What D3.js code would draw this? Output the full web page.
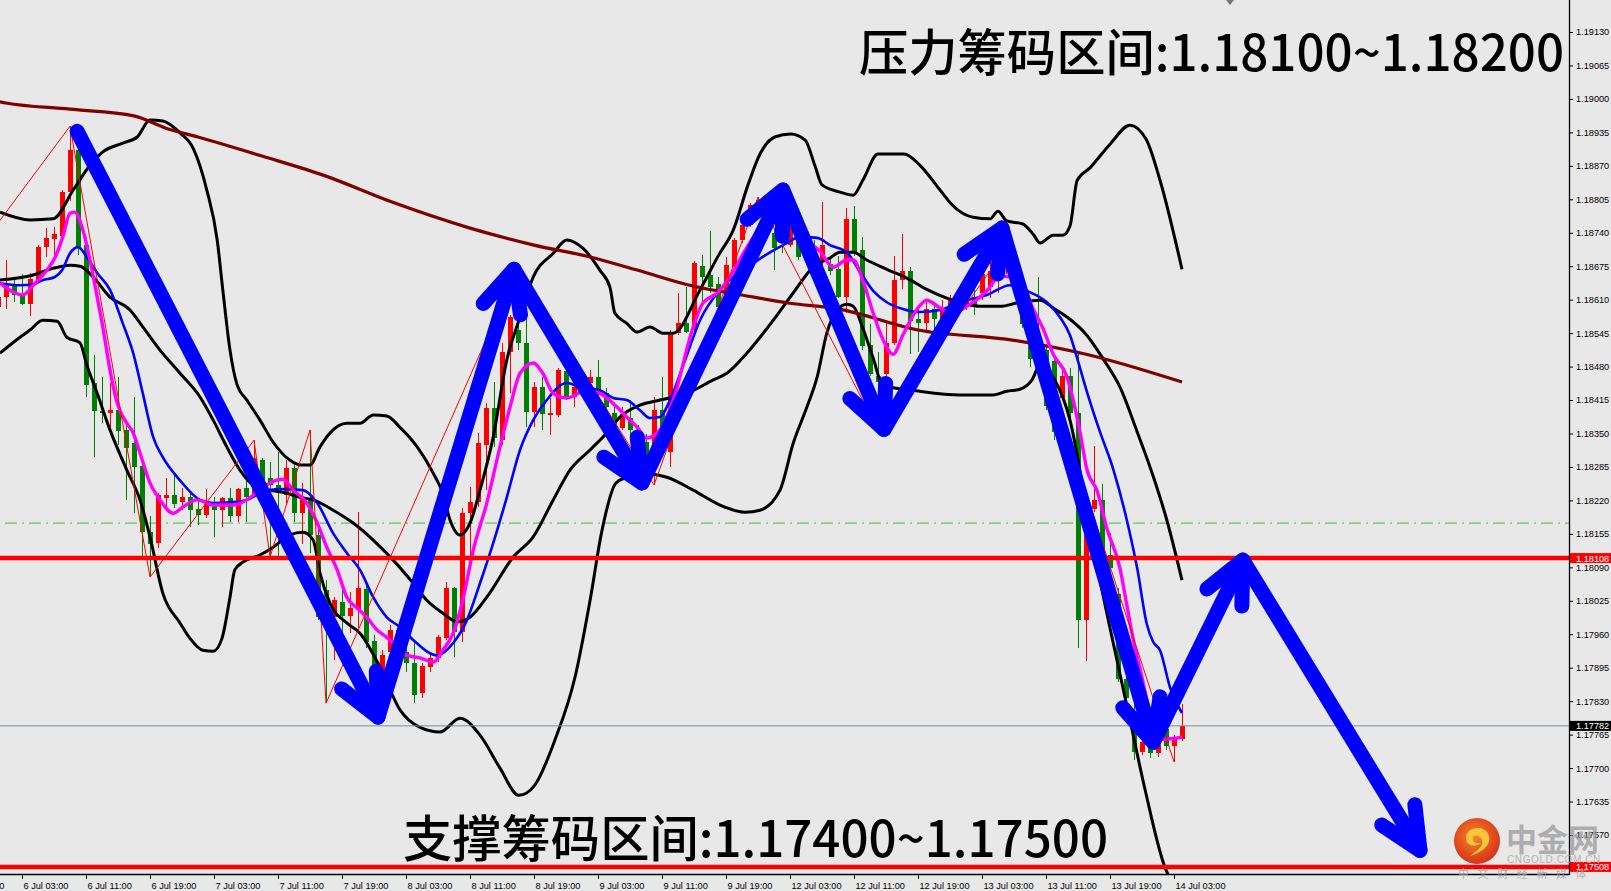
<!DOCTYPE html>
<html><head><meta charset="utf-8">
<script src="https://cdn.jsdelivr.net/npm/d3@7"></script>
<style>
html,body{margin:0;padding:0;background:#e8e8e8;overflow:hidden;}
svg{display:block;}
</style></head><body>
<svg id="c" width="1611" height="891"></svg>
<script>
// ---------------- DATA ----------------
const firstBar = -3; // bar index of first candle (6 Jul 03:00 = bar 0, hourly bars)
// [open, high, low, close]
const ohlc = [
[1.18596,1.18640,1.18590,1.18615],
[1.18615,1.18687,1.18592,1.18636],[1.18640,1.18652,1.18605,1.18619],[1.18619,1.18659,1.18599,1.18601],[1.18601,1.18661,1.18578,1.18650],
[1.18648,1.18716,1.18642,1.18712],[1.18712,1.18749,1.18692,1.18729],[1.18727,1.18751,1.18692,1.18737],[1.18733,1.18824,1.18731,1.18820],
[1.18819,1.18947,1.18801,1.18900],[1.18900,1.18914,1.18697,1.18712],[1.18716,1.18731,1.18421,1.18444],[1.18448,1.18502,1.18304,1.18394],
[1.18394,1.18459,1.18370,1.18390],[1.18390,1.18448,1.18362,1.18396],[1.18396,1.18459,1.18327,1.18354],[1.18356,1.18370,1.18220,1.18322],
[1.18331,1.18421,1.18195,1.18285],[1.18287,1.18302,1.18110,1.18158],[1.18159,1.18190,1.18071,1.18136],[1.18138,1.18234,1.18127,1.18230],
[1.18224,1.18263,1.18205,1.18230],[1.18230,1.18275,1.18205,1.18214],[1.18216,1.18244,1.18201,1.18226],[1.18226,1.18236,1.18168,1.18201],
[1.18203,1.18220,1.18172,1.18191],[1.18191,1.18242,1.18185,1.18214],[1.18214,1.18226,1.18149,1.18201],[1.18201,1.18226,1.18168,1.18224],
[1.18224,1.18244,1.18178,1.18189],[1.18189,1.18244,1.18178,1.18242],[1.18244,1.18263,1.18178,1.18226],[1.18230,1.18337,1.18226,1.18302],
[1.18298,1.18302,1.18234,1.18240],[1.18263,1.18294,1.18110,1.18249],[1.18249,1.18314,1.18110,1.18234],[1.18230,1.18298,1.18214,1.18283],
[1.18283,1.18292,1.18178,1.18195],[1.18195,1.18254,1.18136,1.18226],[1.18220,1.18357,1.18118,1.18153],[1.18153,1.18176,1.17987,1.17993],
[1.18046,1.18066,1.17826,1.17993],[1.17993,1.18032,1.17910,1.18026],[1.18022,1.18048,1.17963,1.17995],[1.17995,1.18042,1.17963,1.18011],
[1.18007,1.18197,1.17972,1.18050],[1.18048,1.18059,1.17933,1.17945],[1.17947,1.17958,1.17877,1.17896],[1.17886,1.17929,1.17877,1.17919],
[1.17925,1.17978,1.17923,1.17968],[1.17968,1.17978,1.17910,1.17939],[1.17925,1.17949,1.17886,1.17904],[1.17904,1.17945,1.17826,1.17842],
[1.17846,1.17904,1.17836,1.17898],[1.17896,1.17923,1.17886,1.17914],[1.17914,1.17958,1.17906,1.17955],[1.17953,1.18061,1.17949,1.18050],
[1.18050,1.18052,1.17915,1.17964],[1.17964,1.18205,1.17945,1.18195],[1.18195,1.18246,1.18094,1.18216],[1.18216,1.18351,1.18207,1.18331],
[1.18327,1.18409,1.18240,1.18399],[1.18399,1.18450,1.18323,1.18341],[1.18337,1.18526,1.18327,1.18508],[1.18508,1.18580,1.18428,1.18576],
[1.18551,1.18673,1.18512,1.18526],[1.18526,1.18594,1.18362,1.18392],[1.18392,1.18450,1.18362,1.18440],[1.18440,1.18459,1.18357,1.18388],
[1.18386,1.18419,1.18347,1.18390],[1.18386,1.18477,1.18382,1.18473],[1.18471,1.18479,1.18415,1.18419],[1.18421,1.18454,1.18401,1.18440],
[1.18430,1.18469,1.18423,1.18454],[1.18448,1.18473,1.18421,1.18460],[1.18460,1.18493,1.18419,1.18428],[1.18428,1.18438,1.18392,1.18401],
[1.18390,1.18401,1.18357,1.18362],[1.18360,1.18401,1.18357,1.18388],[1.18380,1.18415,1.18337,1.18357],[1.18357,1.18366,1.18308,1.18327],
[1.18333,1.18349,1.18280,1.18298],[1.18323,1.18421,1.18250,1.18396],[1.18396,1.18459,1.18357,1.18362],[1.18314,1.18551,1.18285,1.18547],
[1.18545,1.18623,1.18541,1.18564],[1.18564,1.18634,1.18545,1.18547],[1.18551,1.18685,1.18547,1.18681],[1.18675,1.18697,1.18599,1.18654],
[1.18658,1.18743,1.18623,1.18634],[1.18640,1.18654,1.18594,1.18595],[1.18595,1.18693,1.18594,1.18677],[1.18673,1.18730,1.18671,1.18726],
[1.18726,1.18770,1.18720,1.18755],[1.18755,1.18798,1.18751,1.18794],[1.18790,1.18809,1.18784,1.18804],[1.18804,1.18806,1.18745,1.18755],
[1.18739,1.18749,1.18668,1.18710],[1.18739,1.18759,1.18700,1.18726],[1.18716,1.18751,1.18712,1.18749],[1.18741,1.18745,1.18687,1.18693],
[1.18693,1.18726,1.18681,1.18712],[1.18712,1.18726,1.18671,1.18683],[1.18683,1.18799,1.18677,1.18716],[1.18679,1.18695,1.18658,1.18665],
[1.18669,1.18695,1.18613,1.18615],[1.18615,1.18788,1.18584,1.18767],[1.18767,1.18792,1.18695,1.18702],[1.18706,1.18732,1.18512,1.18520],
[1.18522,1.18563,1.18461,1.18465],[1.18461,1.18508,1.18357,1.18450],[1.18465,1.18566,1.18454,1.18526],[1.18526,1.18695,1.18522,1.18648],
[1.18648,1.18737,1.18630,1.18665],[1.18665,1.18673,1.18504,1.18568],[1.18572,1.18594,1.18508,1.18565],[1.18565,1.18605,1.18547,1.18592],
[1.18592,1.18599,1.18551,1.18572],[1.18572,1.18609,1.18566,1.18594],[1.18590,1.18619,1.18580,1.18609],[1.18609,1.18625,1.18586,1.18599],
[1.18599,1.18628,1.18590,1.18619],[1.18615,1.18630,1.18580,1.18600],[1.18623,1.18671,1.18609,1.18660],[1.18634,1.18698,1.18613,1.18665],
[1.18663,1.18685,1.18623,1.18677],[1.18677,1.18710,1.18660,1.18690],[1.18660,1.18675,1.18620,1.18630],[1.18630,1.18645,1.18555,1.18562],
[1.18562,1.18600,1.18480,1.18495],[1.18540,1.18655,1.18470,1.18480],[1.18512,1.18522,1.18396,1.18403],[1.18491,1.18502,1.18337,1.18353],
[1.18419,1.18473,1.18415,1.18462],[1.18462,1.18477,1.18376,1.18390],[1.18390,1.18504,1.17933,1.17987],[1.17987,1.18166,1.17908,1.18160],
[1.18203,1.18326,1.18197,1.18221],[1.18221,1.18252,1.18120,1.18124],[1.18114,1.18157,1.18085,1.18088],[1.18038,1.18050,1.17867,1.17873],
[1.17873,1.17892,1.17822,1.17836],[1.17801,1.17832,1.17715,1.17731],[1.17731,1.17764,1.17725,1.17750],[1.17750,1.17765,1.17720,1.17730],
[1.17730,1.17760,1.17722,1.17745],[1.17776,1.17783,1.17735,1.17743],[1.17743,1.17764,1.17712,1.17756],[1.17756,1.17824,1.17752,1.17782]
];
// indicator lines: [bar index, price]
const maSlow = [[-3,1.18995],[-2,1.18992],[6,1.18980],[14,1.18967],[18,1.18943],[22,1.18926],[30,1.18889],[38,1.18850],[46,1.18801],[56,1.18749],[64,1.18716],[71,1.18693],[77,1.18667],[84,1.18636],[90,1.18619],[96,1.18603],[102,1.18592],[112,1.18551],[124,1.18531],[133,1.18504],[145,1.18450]];
const bbUpper = [[-2.75,1.18780],[1,1.18765],[3.9,1.18767],[6.4,1.18823],[8.5,1.18871],[10.1,1.18897],[12.6,1.18914],[14.4,1.18926],[16,1.18959],[17.6,1.18957],[19.75,1.18934],[21.4,1.18904],[23.1,1.18823],[24.4,1.18726],[25.1,1.18629],[26,1.18512],[26.9,1.18444],[28.1,1.18415],[29.75,1.18376],[31.4,1.18333],[33.5,1.18298],[34.75,1.18289],[36,1.18289],[37.25,1.18324],[38.5,1.18351],[40.6,1.18370],[42.25,1.18370],[43.9,1.18386],[45.6,1.18384],[47.25,1.18362],[49.4,1.18324],[51.4,1.18273],[52.6,1.18234],[53.5,1.18182],[54.75,1.18153],[56,1.18176],[57.25,1.18240],[58.9,1.18343],[60.6,1.18493],[62.25,1.18576],[63.9,1.18654],[66.4,1.18700],[68.1,1.18726],[70.1,1.18710],[72.25,1.18667],[73.5,1.18634],[74.1,1.18584],[75.6,1.18564],[76.9,1.18547],[78.5,1.18557],[80.1,1.18545],[81.4,1.18545],[84.75,1.18629],[87.1,1.18697],[88.9,1.18745],[90.75,1.18833],[92.25,1.18893],[94.1,1.18926],[96.1,1.18932],[97.9,1.18920],[99.1,1.18871],[100,1.18833],[102.25,1.18819],[103.9,1.18813],[105.1,1.18842],[107,1.18893],[110.25,1.18893],[112.25,1.18871],[114.75,1.18823],[116.4,1.18792],[118.9,1.18770],[121,1.18767],[122,1.18782],[123.1,1.18763],[125.1,1.18757],[126.4,1.18737],[127.25,1.18720],[128.9,1.18735],[130.1,1.18735],[131,1.18753],[131.9,1.18842],[133.5,1.18866],[136,1.18912],[138.5,1.18949],[140.5,1.18922],[142.25,1.18842],[145,1.18669]];
const bbMiddle = [[-2.75,1.18648],[1.4,1.18658],[3.9,1.18671],[6,1.18677],[7.25,1.18675],[8.9,1.18654],[11,1.18615],[13.5,1.18590],[15.1,1.18557],[17.25,1.18512],[19.75,1.18467],[22.25,1.18421],[23.9,1.18376],[25.6,1.18324],[27.25,1.18279],[28.9,1.18250],[31,1.18240],[33.1,1.18234],[34.75,1.18226],[36.4,1.18221],[38.9,1.18201],[41.4,1.18176],[43.9,1.18143],[46.4,1.18104],[48.9,1.18059],[50.6,1.18026],[52.6,1.18001],[54.4,1.17984],[56,1.17993],[58.1,1.18032],[61.4,1.18110],[63.9,1.18149],[66.4,1.18221],[68.5,1.18279],[71,1.18318],[73.1,1.18351],[74.75,1.18382],[77.25,1.18405],[79.75,1.18415],[83.1,1.18428],[86.4,1.18454],[88.1,1.18467],[90.6,1.18506],[93.9,1.18570],[96.4,1.18623],[98.9,1.18673],[101,1.18691],[102.25,1.18702],[103.9,1.18702],[105.6,1.18687],[108.1,1.18669],[110.6,1.18652],[113.1,1.18630],[115.6,1.18613],[117.25,1.18605],[119.75,1.18597],[122.25,1.18597],[124.75,1.18605],[127.25,1.18609],[128.9,1.18594],[131,1.18572],[133.1,1.18541],[135.1,1.18496],[137.25,1.18440],[139.4,1.18353],[141.4,1.18267],[143.1,1.18182],[145,1.18065]];
const bbLower = [[-2.75,1.18506],[-0.25,1.18537],[1,1.18551],[2.6,1.18570],[4.4,1.18568],[5.6,1.18537],[7.25,1.18526],[8.1,1.18483],[9.4,1.18428],[11,1.18357],[13.1,1.18279],[14.75,1.18221],[16,1.18149],[17.6,1.18040],[19.75,1.17982],[21,1.17952],[22.6,1.17929],[23.9,1.17927],[25,1.17952],[26,1.18032],[26.6,1.18085],[27.6,1.18100],[29.75,1.18114],[31.4,1.18129],[33.5,1.18153],[35.1,1.18158],[36.4,1.18143],[37.25,1.18079],[38.5,1.18020],[40.6,1.17982],[42.25,1.17962],[44.75,1.17896],[47.25,1.17813],[49.75,1.17779],[52.25,1.17770],[54.75,1.17797],[57.25,1.17764],[59.75,1.17700],[62.1,1.17647],[64.1,1.17667],[66.6,1.17754],[69.1,1.17875],[71.1,1.18034],[72.4,1.18154],[74.25,1.18254],[75.6,1.18265],[77.25,1.18273],[80.6,1.18265],[83.9,1.18240],[87.25,1.18211],[90.4,1.18197],[92.25,1.18201],[94.75,1.18240],[96.4,1.18331],[98.1,1.18401],[99.4,1.18460],[100.6,1.18545],[101.9,1.18590],[103.1,1.18601],[103.9,1.18597],[105.1,1.18555],[106.4,1.18496],[107.6,1.18444],[112.25,1.18432],[117.25,1.18425],[121.4,1.18425],[123.1,1.18432],[124.75,1.18436],[126.25,1.18454],[127.25,1.18483],[129.1,1.18454],[131,1.18376],[132.9,1.18221],[134.75,1.18065],[136.6,1.17929],[138.5,1.17793],[140.4,1.17657],[142.9,1.17506],[145,1.17461]];
const maMid = [[-2.75,1.18642],[-0.25,1.18638],[1.4,1.18640],[2.6,1.18648],[4.1,1.18654],[5,1.18667],[6,1.18700],[7,1.18712],[8.1,1.18693],[9.4,1.18662],[11,1.18629],[12.6,1.18564],[13.9,1.18506],[15.1,1.18428],[16.4,1.18343],[17.6,1.18304],[19.75,1.18259],[22.25,1.18221],[23.9,1.18215],[26.4,1.18217],[28.1,1.18221],[29.75,1.18234],[32.25,1.18242],[35.1,1.18240],[36.9,1.18215],[38.9,1.18156],[40.6,1.18118],[42.25,1.18085],[43.9,1.18032],[45.6,1.17993],[47.25,1.17974],[48.9,1.17949],[51.9,1.17919],[53.9,1.17943],[55.6,1.17987],[57.25,1.18059],[58.9,1.18137],[60.6,1.18226],[62.25,1.18318],[63.9,1.18376],[65.6,1.18415],[68.1,1.18448],[69.75,1.18440],[72.25,1.18434],[73.9,1.18419],[75.6,1.18415],[77.25,1.18395],[78.5,1.18380],[79.75,1.18382],[81,1.18415],[82.9,1.18493],[84.75,1.18570],[87.25,1.18629],[89.75,1.18664],[91.4,1.18681],[93.5,1.18702],[95.6,1.18720],[97.25,1.18732],[99.4,1.18730],[101,1.18716],[103.1,1.18702],[104.75,1.18664],[106.4,1.18627],[108.1,1.18605],[110.1,1.18592],[112.25,1.18586],[114.75,1.18590],[117.25,1.18605],[120.6,1.18619],[123.5,1.18638],[125.6,1.18627],[128.1,1.18605],[129.75,1.18576],[131,1.18541],[131.9,1.18496],[133.1,1.18432],[134.75,1.18353],[136.4,1.18281],[138.1,1.18182],[139.4,1.18088],[140.6,1.17980],[141.4,1.17945],[142.25,1.17929],[143.5,1.17857],[145,1.17807]];
const maFast = [[-2.75,1.18642],[-1.1,1.18625],[0.1,1.18619],[1.4,1.18638],[3.1,1.18667],[4.1,1.18691],[5.1,1.18732],[6,1.18778],[6.6,1.18780],[7.5,1.18751],[8.5,1.18687],[9.4,1.18615],[10.1,1.18557],[11,1.18473],[11.9,1.18409],[13.1,1.18370],[13.9,1.18351],[14.75,1.18312],[16,1.18254],[17.25,1.18221],[18.9,1.18195],[20.1,1.18207],[21.9,1.18221],[23.9,1.18211],[26.4,1.18211],[28.1,1.18221],[29.4,1.18236],[31,1.18254],[32.6,1.18261],[33.9,1.18240],[35.6,1.18215],[36.9,1.18176],[38.1,1.18129],[39.4,1.18085],[40.6,1.18032],[41.9,1.18011],[43.1,1.17993],[44.4,1.17968],[45.6,1.17954],[46.9,1.17935],[48.1,1.17919],[49.75,1.17914],[51.4,1.17906],[52.6,1.17929],[53.9,1.17962],[55.1,1.18026],[56.4,1.18123],[58.1,1.18215],[59.75,1.18324],[61,1.18401],[62.25,1.18467],[63.9,1.18487],[65.1,1.18467],[66.4,1.18428],[68.1,1.18419],[70.6,1.18434],[72.25,1.18428],[74.4,1.18401],[75.6,1.18382],[76.9,1.18362],[78.1,1.18341],[79.75,1.18357],[81.4,1.18415],[83.9,1.18557],[85.1,1.18603],[86.9,1.18623],[88.5,1.18654],[90.4,1.18706],[92.25,1.18749],[94.1,1.18768],[96,1.18755],[97.9,1.18726],[99.75,1.18704],[101.4,1.18673],[103.1,1.18687],[103.9,1.18687],[105.1,1.18648],[106.4,1.18584],[107.6,1.18533],[108.9,1.18504],[110.1,1.18541],[111.9,1.18592],[113.1,1.18609],[114.75,1.18594],[116.4,1.18584],[118.1,1.18597],[120.6,1.18627],[122.25,1.18656],[124.75,1.18648],[126.4,1.18592],[127.6,1.18555],[128.9,1.18504],[130.6,1.18461],[132.25,1.18353],[133.1,1.18281],[134.4,1.18238],[135.6,1.18166],[137.25,1.18088],[138.1,1.18017],[138.9,1.17950],[139.75,1.17894],[141,1.17807],[142.6,1.17756],[145,1.17760]];
const zigzag = [[-3,1.18759],[6,1.18947],[16,1.18071],[29,1.18337],[31,1.18110],[36,1.18357],[38,1.17826],[62,1.18673],[79,1.18250],[92,1.18809],[107,1.18357],[123,1.18710],[144,1.17712]];
// hand drawn forecast arrows: vertices [bar index, price]
const arrowPath = [[6.9,1.18937],[44.5,1.17799],[61.5,1.18669],[77.5,1.18254],[95.1,1.18823],[107.75,1.18358],[122.5,1.18749],[141.4,1.17750],[152.6,1.18104],[174.75,1.17540]];
// levels
const redLevels = [1.18108, 1.17508];
const bidPrice = 1.17782;
const dashLevel = 1.18176;
// axes
const priceTicks = ["1.19130","1.19065","1.19000","1.18935","1.18870","1.18805","1.18740","1.18675","1.18610","1.18545","1.18480","1.18415","1.18350","1.18285","1.18220","1.18155","1.18090","1.18025","1.17960","1.17895","1.17830","1.17765","1.17700","1.17635","1.17570"];
const timeTickBars = [-8,0,8,16,24,32,40,48,56,64,72,80,88,96,104,112,120,128,136,144];
const timeTickLabels = ["5 Jul 19:00","6 Jul 03:00","6 Jul 11:00","6 Jul 19:00","7 Jul 03:00","7 Jul 11:00","7 Jul 19:00","8 Jul 03:00","8 Jul 11:00","8 Jul 19:00","9 Jul 03:00","9 Jul 11:00","9 Jul 19:00","12 Jul 03:00","12 Jul 11:00","12 Jul 19:00","13 Jul 03:00","13 Jul 11:00","13 Jul 19:00","14 Jul 03:00"];
const titleTop = "压力筹码区间:1.18100~1.18200";
const titleBottom = "支撑筹码区间:1.17400~1.17500";

// ---------------- LAYOUT ----------------
const W = 1611, H = 891, plotR = 1569, plotB = 874;
const x = d3.scaleLinear().domain([0, 145]).range([22, 1182]);
const y = d3.scaleLinear().domain([1.19130, 1.17570]).range([32, 835]);
const svg = d3.select("#c");
svg.append("rect").attr("width", W).attr("height", H).attr("fill", "#e8e8e8");
svg.append("defs").html(`
  <clipPath id="plot"><rect x="0" y="0" width="${plotR}" height="${plotB}"/></clipPath>
  <radialGradient id="lg" cx="0.45" cy="0.4" r="0.65">
    <stop offset="0" stop-color="#f38a26"/><stop offset="0.7" stop-color="#e0451c"/><stop offset="1" stop-color="#c7321a"/>
  </radialGradient>`);
const g = svg.append("g").attr("clip-path", "url(#plot)");

// dash-dot level
g.append("line").attr("x1", 5).attr("x2", plotR).attr("y1", y(dashLevel)).attr("y2", y(dashLevel))
  .attr("stroke", "#3dbb3d").attr("stroke-width", 1).attr("stroke-dasharray", "12,5,2,5");

// candles
const cg = g.append("g").attr("shape-rendering", "crispEdges");
ohlc.forEach((d, i) => {
  const k = firstBar + i, cx = Math.round(x(k));
  const [o, h, l, c] = d;
  const col = c >= o ? "#ff0000" : "#008000";
  cg.append("rect").attr("x", cx).attr("width", 1).attr("y", y(h)).attr("height", Math.max(1, y(l) - y(h))).attr("fill", col);
  const top = y(Math.max(o, c)), bot = y(Math.min(o, c));
  cg.append("rect").attr("x", cx - 2).attr("width", 5).attr("y", top).attr("height", Math.max(1, bot - top)).attr("fill", col);
});

// indicators
const smooth = d3.line().x(d => x(d[0])).y(d => y(d[1])).curve(d3.curveMonotoneX);
const straight = d3.line().x(d => x(d[0])).y(d => y(d[1]));
[[bbUpper, "#000", 3], [bbMiddle, "#000", 3], [bbLower, "#000", 3], [maSlow, "#800000", 3.2],
 [maMid, "#0000ff", 2.6], [maFast, "#ff00ff", 3.4]].forEach(([data, col, w]) => {
  g.append("path").attr("d", smooth(data)).attr("fill", "none").attr("stroke", col).attr("stroke-width", w).attr("stroke-linejoin", "round");
});
g.append("path").attr("d", straight(zigzag)).attr("fill", "none").attr("stroke", "#ff0000").attr("stroke-width", 1);

// horizontal levels
g.append("line").attr("x1", 0).attr("x2", plotR).attr("y1", y(bidPrice)).attr("y2", y(bidPrice)).attr("stroke", "#7a8b9c").attr("stroke-width", 1);
redLevels.forEach(p => {
  g.append("line").attr("x1", 0).attr("x2", plotR).attr("y1", y(p)).attr("y2", y(p)).attr("stroke", "#ff0000").attr("stroke-width", 4.5);
});

// ---------- axes ----------
const yAxis = d3.axisRight(y).tickValues(priceTicks.map(Number)).tickSize(4).tickPadding(3)
  .tickFormat((d, i) => priceTicks[i]);
const ya = svg.append("g").attr("transform", `translate(${plotR},0)`).call(yAxis);
ya.select(".domain").remove();
ya.selectAll("line").attr("stroke", "#000");
ya.selectAll("text").attr("font-family", "Liberation Sans, Arial, sans-serif").attr("font-size", 9.2).attr("fill", "#000");

const xAxis = d3.axisBottom(x).tickValues(timeTickBars).tickSize(5).tickPadding(3)
  .tickFormat((d, i) => timeTickLabels[i]);
const xa = svg.append("g").attr("transform", `translate(0,${plotB})`).call(xAxis);
xa.select(".domain").remove();
xa.selectAll("line").attr("stroke", "#000");
xa.selectAll("text").attr("text-anchor", "start").attr("x", 1).attr("dy", "0.75em")
  .attr("font-family", "Liberation Sans, Arial, sans-serif").attr("font-size", 9.2).attr("fill", "#000");

svg.append("line").attr("x1", plotR + 0.5).attr("x2", plotR + 0.5).attr("y1", 0).attr("y2", plotB + 1).attr("stroke", "#000").attr("stroke-width", 1.3);
svg.append("line").attr("x1", 0).attr("x2", plotR).attr("y1", plotB + 0.5).attr("y2", plotB + 0.5).attr("stroke", "#000").attr("stroke-width", 1.3);

// price labels on axis
function axisTag(p, bg, txt) {
  const yy = y(p);
  svg.append("rect").attr("x", plotR + 1).attr("y", yy - 5).attr("width", W - plotR - 1).attr("height", 10).attr("fill", bg);
  svg.append("text").attr("x", plotR + 7).attr("y", yy + 3.5).attr("font-family", "Liberation Sans, Arial, sans-serif")
    .attr("font-size", 9.2).attr("fill", "#fff").text(txt);
}
axisTag(redLevels[0], "#ff0000", redLevels[0].toFixed(5));
axisTag(bidPrice, "#000000", bidPrice.toFixed(5));
axisTag(redLevels[1], "#ff0000", redLevels[1].toFixed(5));

// shift marker
svg.append("path").attr("d", `M${x(150.5)},0 L${x(151.5)},0 L${x(151)},5 Z`).attr("fill", "#777");

// ---------- arrows ----------
const ag = svg.append("g").attr("clip-path", "url(#plot)").attr("fill", "none").attr("stroke", "#0000ff")
  .attr("stroke-width", 15).attr("stroke-linecap", "round").attr("stroke-linejoin", "round");
const pts = arrowPath.map(d => [x(d[0]), y(d[1])]);
ag.append("path").attr("d", d3.line()(pts));
for (let i = 1; i < pts.length; i++) {
  const [x0, y0] = pts[i - 1], [x1, y1] = pts[i];
  const ang = Math.atan2(y0 - y1, x0 - x1), L = 46, s = 25 * Math.PI / 180;
  const a1 = [x1 + L * Math.cos(ang + s), y1 + L * Math.sin(ang + s)];
  const a2 = [x1 + L * Math.cos(ang - s), y1 + L * Math.sin(ang - s)];
  ag.append("path").attr("d", d3.line()([a1, [x1, y1], a2]));
}

// ---------- titles ----------
const font = "'Noto Sans CJK SC','Noto Sans',sans-serif";
svg.append("text").attr("x", 859).attr("y", 71).attr("font-family", font).attr("font-size", 50).attr("font-weight", 500)
  .attr("textLength", 705).attr("lengthAdjust", "spacingAndGlyphs").attr("fill", "#000").text(titleTop);
svg.append("text").attr("x", 403).attr("y", 857).attr("font-family", font).attr("font-size", 50).attr("font-weight", 500)
  .attr("textLength", 705).attr("lengthAdjust", "spacingAndGlyphs").attr("fill", "#000").text(titleBottom);

// ---------- logo ----------
const lg = svg.append("g");
lg.append("circle").attr("cx", 1477).attr("cy", 841).attr("r", 23).attr("fill", "url(#lg)");
lg.append("path").attr("d", "M1466,838 C1466,826 1486,824 1489,836 C1491,846 1482,852 1470,856 C1478,850 1484,846 1482,840 C1480,834 1471,834 1473,840 C1474,844 1480,843 1480,843 C1476,848 1466,846 1466,838 Z")
  .attr("fill", "#f9c53a");
lg.append("text").attr("x", 1506).attr("y", 851).attr("font-family", font).attr("font-weight", "bold").attr("font-size", 31)
  .attr("fill", "#9a9a9a").attr("fill-opacity", 0.75).text("中金网");
lg.append("text").attr("x", 1507).attr("y", 863).attr("font-family", "Liberation Sans, Arial, sans-serif").attr("font-size", 10)
  .attr("letter-spacing", 0.6).attr("fill", "#a8a8a8").attr("fill-opacity", 0.85).text("CNGOLD.COM.CN");
lg.append("text").attr("x", 1458).attr("y", 878).attr("font-family", font).attr("font-size", 11)
  .attr("letter-spacing", 8.6).attr("fill", "#a0a0a0").attr("fill-opacity", 0.8).text("中文财经新媒体");
</script>
</body></html>
